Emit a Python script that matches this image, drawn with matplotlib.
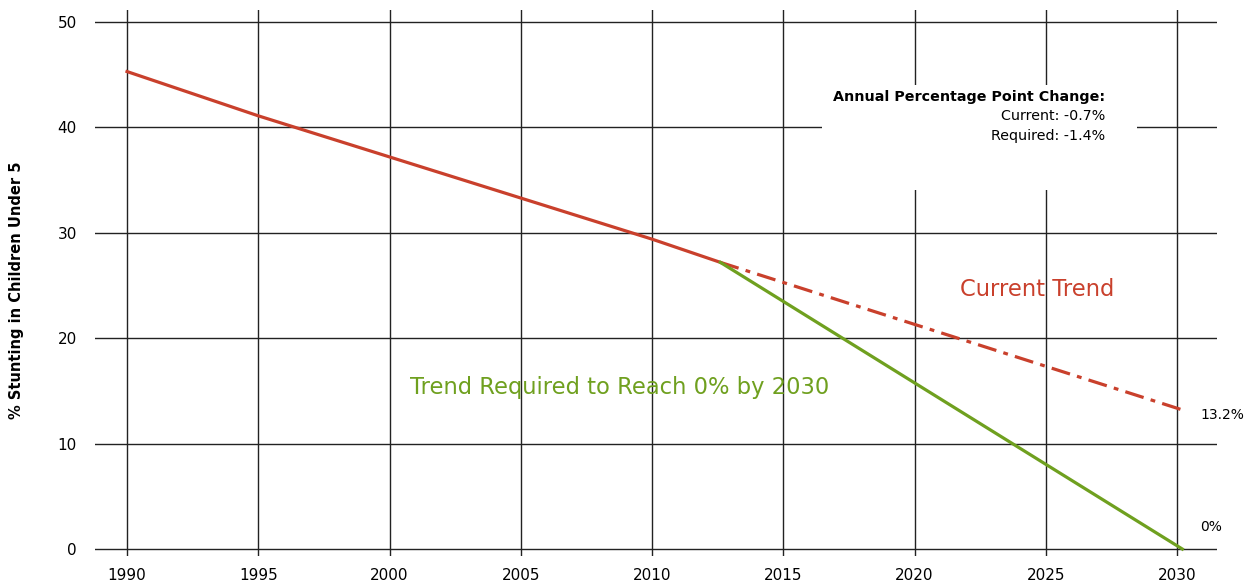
import matplotlib.pyplot as plt
from matplotlib.patches import Rectangle

# observed stunting (% of children under 5)
years_obs = [1990, 1995, 2000, 2005, 2010, 2012.6]
stunt_obs = [45.3, 41.1, 37.2, 33.3, 29.4, 27.2]
# projections from last observation to 2030
years_proj = [2012.6, 2030.2]
current_proj = [27.2, 13.2]
required_proj = [27.2, 0.0]

xticks = [1990, 1995, 2000, 2005, 2010, 2015, 2020, 2025, 2030]
yticks = [0, 10, 20, 30, 40, 50]

red = '#c9402c'
green = '#6fa01f'

plt.rcParams['font.family'] = 'DejaVu Sans'
fig = plt.figure(figsize=(12.44, 5.82), dpi=100)
ax = fig.add_axes([95/1244, 26/582, (1217-95)/1244, (556-10)/582])

ax.set_xlim(1988.78, 2031.52)
ax.set_ylim(-0.66, 51.14)
ax.set_xticks(xticks)
ax.set_yticks(yticks)
ax.grid(True, color='#222222', lw=1)
ax.set_axisbelow(True)
for s in ax.spines.values():
    s.set_visible(False)
ax.tick_params(length=0, labelsize=11)
ax.tick_params(axis='y', pad=13)
ax.tick_params(axis='x', pad=9)
fig.text(17/1244, 1 - 290/582, '% Stunting in Children Under 5', rotation=90,
         ha='center', va='center', fontsize=10.5, fontweight='bold')

# white panel behind the annotation
ax.add_patch(Rectangle((2016.48, 34.06), 12.0, 9.95, facecolor='white', edgecolor='none', zorder=1.5))

ax.plot(years_obs, stunt_obs, color=red, lw=2.3, zorder=3)
ax.plot(years_proj, current_proj, color=red, lw=2.3, dashes=(6, 2.3, 1.5, 2.3), zorder=3)
ax.plot(years_proj, required_proj, color=green, lw=2.3, zorder=3)

ax.text(2027.26, 42.9, 'Annual Percentage Point Change:', ha='right', va='center',
        fontsize=10.3, fontweight='bold', zorder=4)
ax.text(2027.26, 41.1, 'Current: -0.7%', ha='right', va='center', fontsize=10.3, zorder=4)
ax.text(2027.26, 39.2, 'Required: -1.4%', ha='right', va='center', fontsize=10.3, zorder=4)

ax.text(2021.73, 24.6, 'Current Trend', color=red, fontsize=16.3, va='center')
ax.text(2000.78, 15.3, 'Trend Required to Reach 0% by 2030', color=green, fontsize=16.3, va='center')
ax.text(2030.88, 12.7, '13.2%', fontsize=10, va='center')
ax.text(2030.88, 2.1, '0%', fontsize=10, va='center')

plt.savefig('out.png', dpi=100)
